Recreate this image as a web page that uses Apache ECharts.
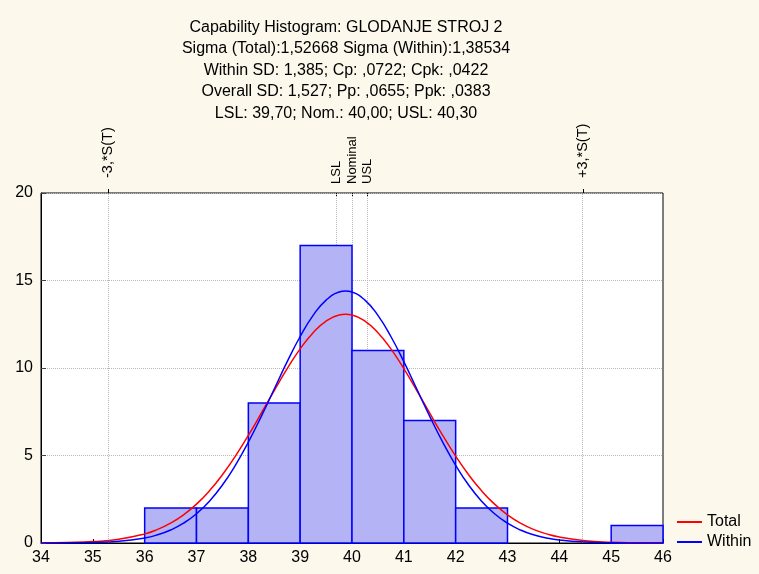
<!DOCTYPE html>
<html>
<head>
<meta charset="utf-8">
<script src="https://cdn.jsdelivr.net/npm/echarts@6/dist/echarts.min.js"></script>
<style>
html,body{margin:0;padding:0;background:#fdf8ec;}
#chart{width:759px;height:574px;}
</style>
</head>
<body>
<div id="chart"></div>
<script>
// ---- data ----
var titleLines = [
  'Capability Histogram: GLODANJE STROJ 2',
  'Sigma (Total):1,52668 Sigma (Within):1,38534',
  'Within SD: 1,385; Cp: ,0722; Cpk: ,0422',
  'Overall SD: 1,527; Pp: ,0655; Ppk: ,0383',
  'LSL: 39,70; Nom.: 40,00; USL: 40,30'
];
var binStart = [36, 37, 38, 39, 40, 41, 42, 45];
var binEnd   = [37, 38, 39, 40, 41, 42, 43, 46];
var binCount = [2, 2, 8, 17, 11, 7, 2, 1];

var curveX  = [34, 34.5, 35, 35.5, 36, 36.25, 36.5, 36.75, 37, 37.25, 37.5, 37.75, 38, 38.25, 38.5, 38.75, 39, 39.25, 39.5, 39.75, 39.875, 40, 40.25, 40.5, 40.75, 41, 41.25, 41.5, 41.75, 42, 42.25, 42.5, 42.75, 43, 43.25, 43.5, 43.75, 44, 44.5, 45, 45.5, 46];
var totalY  = [0.008, 0.027, 0.080, 0.215, 0.522, 0.780, 1.135, 1.609, 2.220, 2.981, 3.898, 4.961, 6.148, 7.417, 8.713, 9.962, 11.09, 12.02, 12.68, 13.03, 13.07, 13.03, 12.68, 12.02, 11.09, 9.962, 8.713, 7.417, 6.148, 4.961, 3.898, 2.981, 2.220, 1.609, 1.135, 0.780, 0.522, 0.340, 0.133, 0.047, 0.015, 0.004];
var withinY = [0.002, 0.008, 0.030, 0.098, 0.288, 0.469, 0.741, 1.130, 1.672, 2.392, 3.312, 4.441, 5.763, 7.237, 8.798, 10.36, 11.80, 13.01, 13.88, 14.34, 14.40, 14.34, 13.88, 13.01, 11.80, 10.36, 8.798, 7.237, 5.763, 4.441, 3.312, 2.392, 1.672, 1.130, 0.741, 0.469, 0.288, 0.171, 0.055, 0.015, 0.004, 0.001];

var sigmaValues = [35.295, 44.455];
var sigmaLabels = ['-3,*S(T)', '+3,*S(T)'];
var specValues = [39.7, 40.0, 40.3];
var specLabels = ['LSL', 'Nominal', 'USL'];

var xTicks = [34, 46, 1];
var yTicks = [0, 20, 5];
var seriesNames = ['Total', 'Within'];

// ---- build ----
var bars = binStart.map(function (s, i) { return [s, binEnd[i], binCount[i]]; });
var totalData = curveX.map(function (x, i) { return [x, totalY[i]]; });
var withinData = curveX.map(function (x, i) { return [x, withinY[i]]; });

function lookup(values, labels) {
  return function (v) {
    for (var i = 0; i < values.length; i++) {
      if (Math.abs(values[i] - v) < 1e-6) return labels[i];
    }
    return '';
  };
}

var FONT = 'Arial, "Liberation Sans", sans-serif';
var chart = echarts.init(document.getElementById('chart'), null, {renderer: 'canvas'});
var markData = sigmaValues.concat(specValues).map(function (v) { return {xAxis: v}; });
var GRIDLINE = {color: '#b8b8b8', type: [1, 1], width: 1};

chart.setOption({
  backgroundColor: '#fdf8ec',
  animation: false,
  title: {
    text: titleLines.join('\n'),
    left: 346,
    top: 16.5,
    padding: 0,
    textAlign: 'center',
    textStyle: {fontFamily: FONT, fontSize: 16, fontWeight: 'normal', color: '#000', lineHeight: 21.5}
  },
  legend: {
    data: seriesNames,
    orient: 'vertical',
    left: 677,
    top: 514,
    padding: 0,
    icon: 'rect',
    itemWidth: 25,
    itemHeight: 2,
    itemGap: 4,
    textStyle: {fontFamily: FONT, fontSize: 16, color: '#000'}
  },
  grid: {
    left: 41, right: 96, top: 193, bottom: 31,
    show: true, backgroundColor: '#ffffff', borderColor: '#000000', borderWidth: 1
  },
  xAxis: [
    {
      type: 'value', position: 'bottom', min: xTicks[0], max: xTicks[1], interval: xTicks[2],
      axisLine: {show: true, lineStyle: {color: '#000'}},
      axisTick: {show: true, inside: true, length: 4, lineStyle: {color: '#000'}},
      axisLabel: {fontFamily: FONT, fontSize: 16, color: '#000', margin: 7},
      splitLine: {show: false}
    },
    {
      type: 'value', position: 'top', min: xTicks[0], max: xTicks[1],
      axisLine: {show: false},
      axisTick: {show: true, inside: false, length: 4, customValues: sigmaValues, lineStyle: {color: '#000'}},
      axisLabel: {show: true, customValues: sigmaValues, rotate: -90, margin: 15,
        fontFamily: FONT, fontSize: 14.5, color: '#000', formatter: lookup(sigmaValues, sigmaLabels)},
      splitLine: {show: false}
    },
    {
      type: 'value', position: 'top', min: xTicks[0], max: xTicks[1],
      axisLine: {show: false},
      axisTick: {show: true, inside: true, length: 4, customValues: specValues, lineStyle: {color: '#000'}},
      axisLabel: {show: true, customValues: specValues, rotate: -90, margin: 9,
        fontFamily: FONT, fontSize: 13, color: '#000', formatter: lookup(specValues, specLabels)},
      splitLine: {show: false}
    }
  ],
  yAxis: {
    type: 'value', min: yTicks[0], max: yTicks[1], interval: yTicks[2],
    axisLine: {show: true, lineStyle: {color: '#000'}},
    axisTick: {show: true, inside: true, length: 5, lineStyle: {color: '#444'}},
    axisLabel: {fontFamily: FONT, fontSize: 16, color: '#000', margin: 8},
    splitLine: {show: true, lineStyle: GRIDLINE}
  },
  series: [
    {
      type: 'line',
      name: 'SpecLines',
      xAxisIndex: 0,
      data: [],
      z: 1,
      silent: true,
      markLine: {
        z: 1,
        silent: true,
        symbol: ['none', 'none'],
        label: {show: false},
        lineStyle: GRIDLINE,
        data: markData
      }
    },
    {
      type: 'custom',
      name: 'Bins',
      xAxisIndex: 0,
      data: bars,
      encode: {x: [0, 1], y: 2},
      z: 2,
      renderItem: function (params, api) {
        var p0 = api.coord([api.value(0), api.value(2)]);
        var p1 = api.coord([api.value(1), 0]);
        return {
          type: 'rect',
          shape: {x: p0[0], y: p0[1], width: p1[0] - p0[0], height: p1[1] - p0[1]},
          style: {fill: '#b3b3f6', stroke: '#0000ff', lineWidth: 1.5}
        };
      }
    },
    {
      type: 'line', name: seriesNames[0], xAxisIndex: 0, data: totalData,
      smooth: true, symbol: 'none', z: 4,
      lineStyle: {color: '#ff0000', width: 1.5}, itemStyle: {color: '#ff0000'}
    },
    {
      type: 'line', name: seriesNames[1], xAxisIndex: 0, data: withinData,
      smooth: true, symbol: 'none', z: 5,
      lineStyle: {color: '#0000ff', width: 1.5}, itemStyle: {color: '#0000ff'}
    }
  ]
});
</script>
</body>
</html>
